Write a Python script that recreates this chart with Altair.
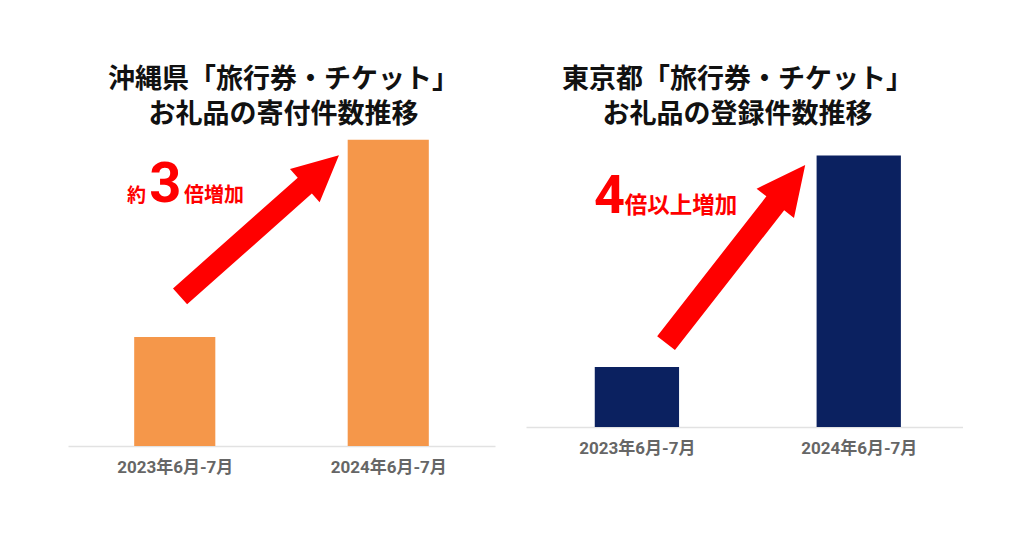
import altair as alt
import pandas as pd

# ---- data -------------------------------------------------------------
periods = ["2023年6月-7月", "2024年6月-7月"]
positions = [0, 1]
okinawa_values = [100, 281]   # index (2023 = 100)
tokyo_values = [100, 452]

okinawa_title = ["沖縄県「旅行券・チケット」", "お礼品の寄付件数推移"]
tokyo_title = ["東京都「旅行券・チケット」", "お礼品の登録件数推移"]

okinawa_note_text = ["約", "3", "倍増加"]
okinawa_note_x = [-0.224, -0.12, 0.043]
okinawa_note_y = [224, 224, 224]
okinawa_note_size = [19, 56, 20]

tokyo_note_text = ["4", "倍以上増加"]
tokyo_note_x = [-0.193, -0.055]
tokyo_note_y = [357, 357]
tokyo_note_size = [54, 22.5]

# arrow: centre (data units), rotation, length in px
okinawa_arrow = {"x": [0.397], "y": [202], "angle": [318.4], "size": [212.5 ** 2]}
tokyo_arrow = {"x": [0.445], "y": [288], "angle": [308.0], "size": [226.0 ** 2]}

ARROW_PATH = ("M-1,-0.1 L0.57,-0.1 L0.57,-0.21 L1,0 L0.57,0.21 "
              "L0.57,0.1 L-1,0.1 Z")
BAR_HALF = 0.19
FONT_JP = "Noto Sans CJK JP"
FONT_NUM = "Roboto, Noto Sans CJK JP"


def panel(values, color, title, dx, width, height, ymax, xdomain,
          note_text, note_x, note_y, note_size, arrow):
    bars = pd.DataFrame({
        "pos": positions,
        "period": periods,
        "value": values,
    })
    bars["x0"] = bars["pos"] - BAR_HALF
    bars["x1"] = bars["pos"] + BAR_HALF

    label_expr = " : ".join(
        f"datum.value == {p} ? '{lab}'" for p, lab in zip(positions[:-1], periods[:-1])
    ) + f" : '{periods[-1]}'"

    xscale = alt.Scale(domain=xdomain, nice=False, zero=False)
    yscale = alt.Scale(domain=[0, ymax], nice=False)

    base_bar = alt.Chart(bars).mark_rect(color=color).encode(
        x=alt.X("x0:Q", scale=xscale,
                axis=alt.Axis(values=positions, labelExpr=label_expr, title=None,
                              grid=False, ticks=False, domainColor="#e2e2e2",
                              domainWidth=1.5, labelFont=FONT_NUM, labelFontSize=17,
                              labelFontWeight="bold", labelColor="#666666",
                              labelPadding=13, labelFlush=False, labelOverlap=False)),
        x2="x1:Q",
        y=alt.Y("value:Q", scale=yscale, axis=None),
        y2=alt.datum(0),
    )

    notes = pd.DataFrame({"t": note_text, "x": note_x, "y": note_y, "s": note_size})
    note_layer = alt.Chart(notes).mark_text(
        align="left", baseline="alphabetic", color="#ff0000",
        fontWeight="bold", font=FONT_NUM,
    ).encode(
        x=alt.X("x:Q", scale=xscale),
        y=alt.Y("y:Q", scale=yscale),
        text="t:N",
        size=alt.Size("s:Q", scale=None, legend=None),
    )

    arrow_df = pd.DataFrame(arrow)
    arrow_layer = alt.Chart(arrow_df).mark_point(
        shape=ARROW_PATH, filled=True, color="#ff0000", opacity=1, strokeWidth=0,
    ).encode(
        x=alt.X("x:Q", scale=xscale),
        y=alt.Y("y:Q", scale=yscale),
        angle=alt.Angle("angle:Q", scale=None),
        size=alt.Size("size:Q", scale=None, legend=None),
    )

    return alt.layer(base_bar, arrow_layer, note_layer).properties(
        width=width, height=height,
        title=alt.TitleParams(text=title, font=FONT_JP, fontSize=27,
                              fontWeight="bold", color="#111111", lineHeight=35,
                              anchor="middle", offset=2, dx=dx),
    )


left = panel(okinawa_values, "#f5974a", okinawa_title, 2, 427, 315, 289, [-0.5, 1.5],
             okinawa_note_text, okinawa_note_x, okinawa_note_y, okinawa_note_size,
             okinawa_arrow)
right = panel(tokyo_values, "#0b2160", tokyo_title, -7, 437, 296, 493, [-0.5, 1.47],
              tokyo_note_text, tokyo_note_x, tokyo_note_y, tokyo_note_size,
              tokyo_arrow)

chart = alt.hconcat(left, right, spacing=31).properties(
    padding={"left": 68, "top": 66, "right": 0, "bottom": 0},
    background="white",
).configure_view(stroke=None)

chart.save("out.html", embed_options={"renderer": "svg", "actions": False})
